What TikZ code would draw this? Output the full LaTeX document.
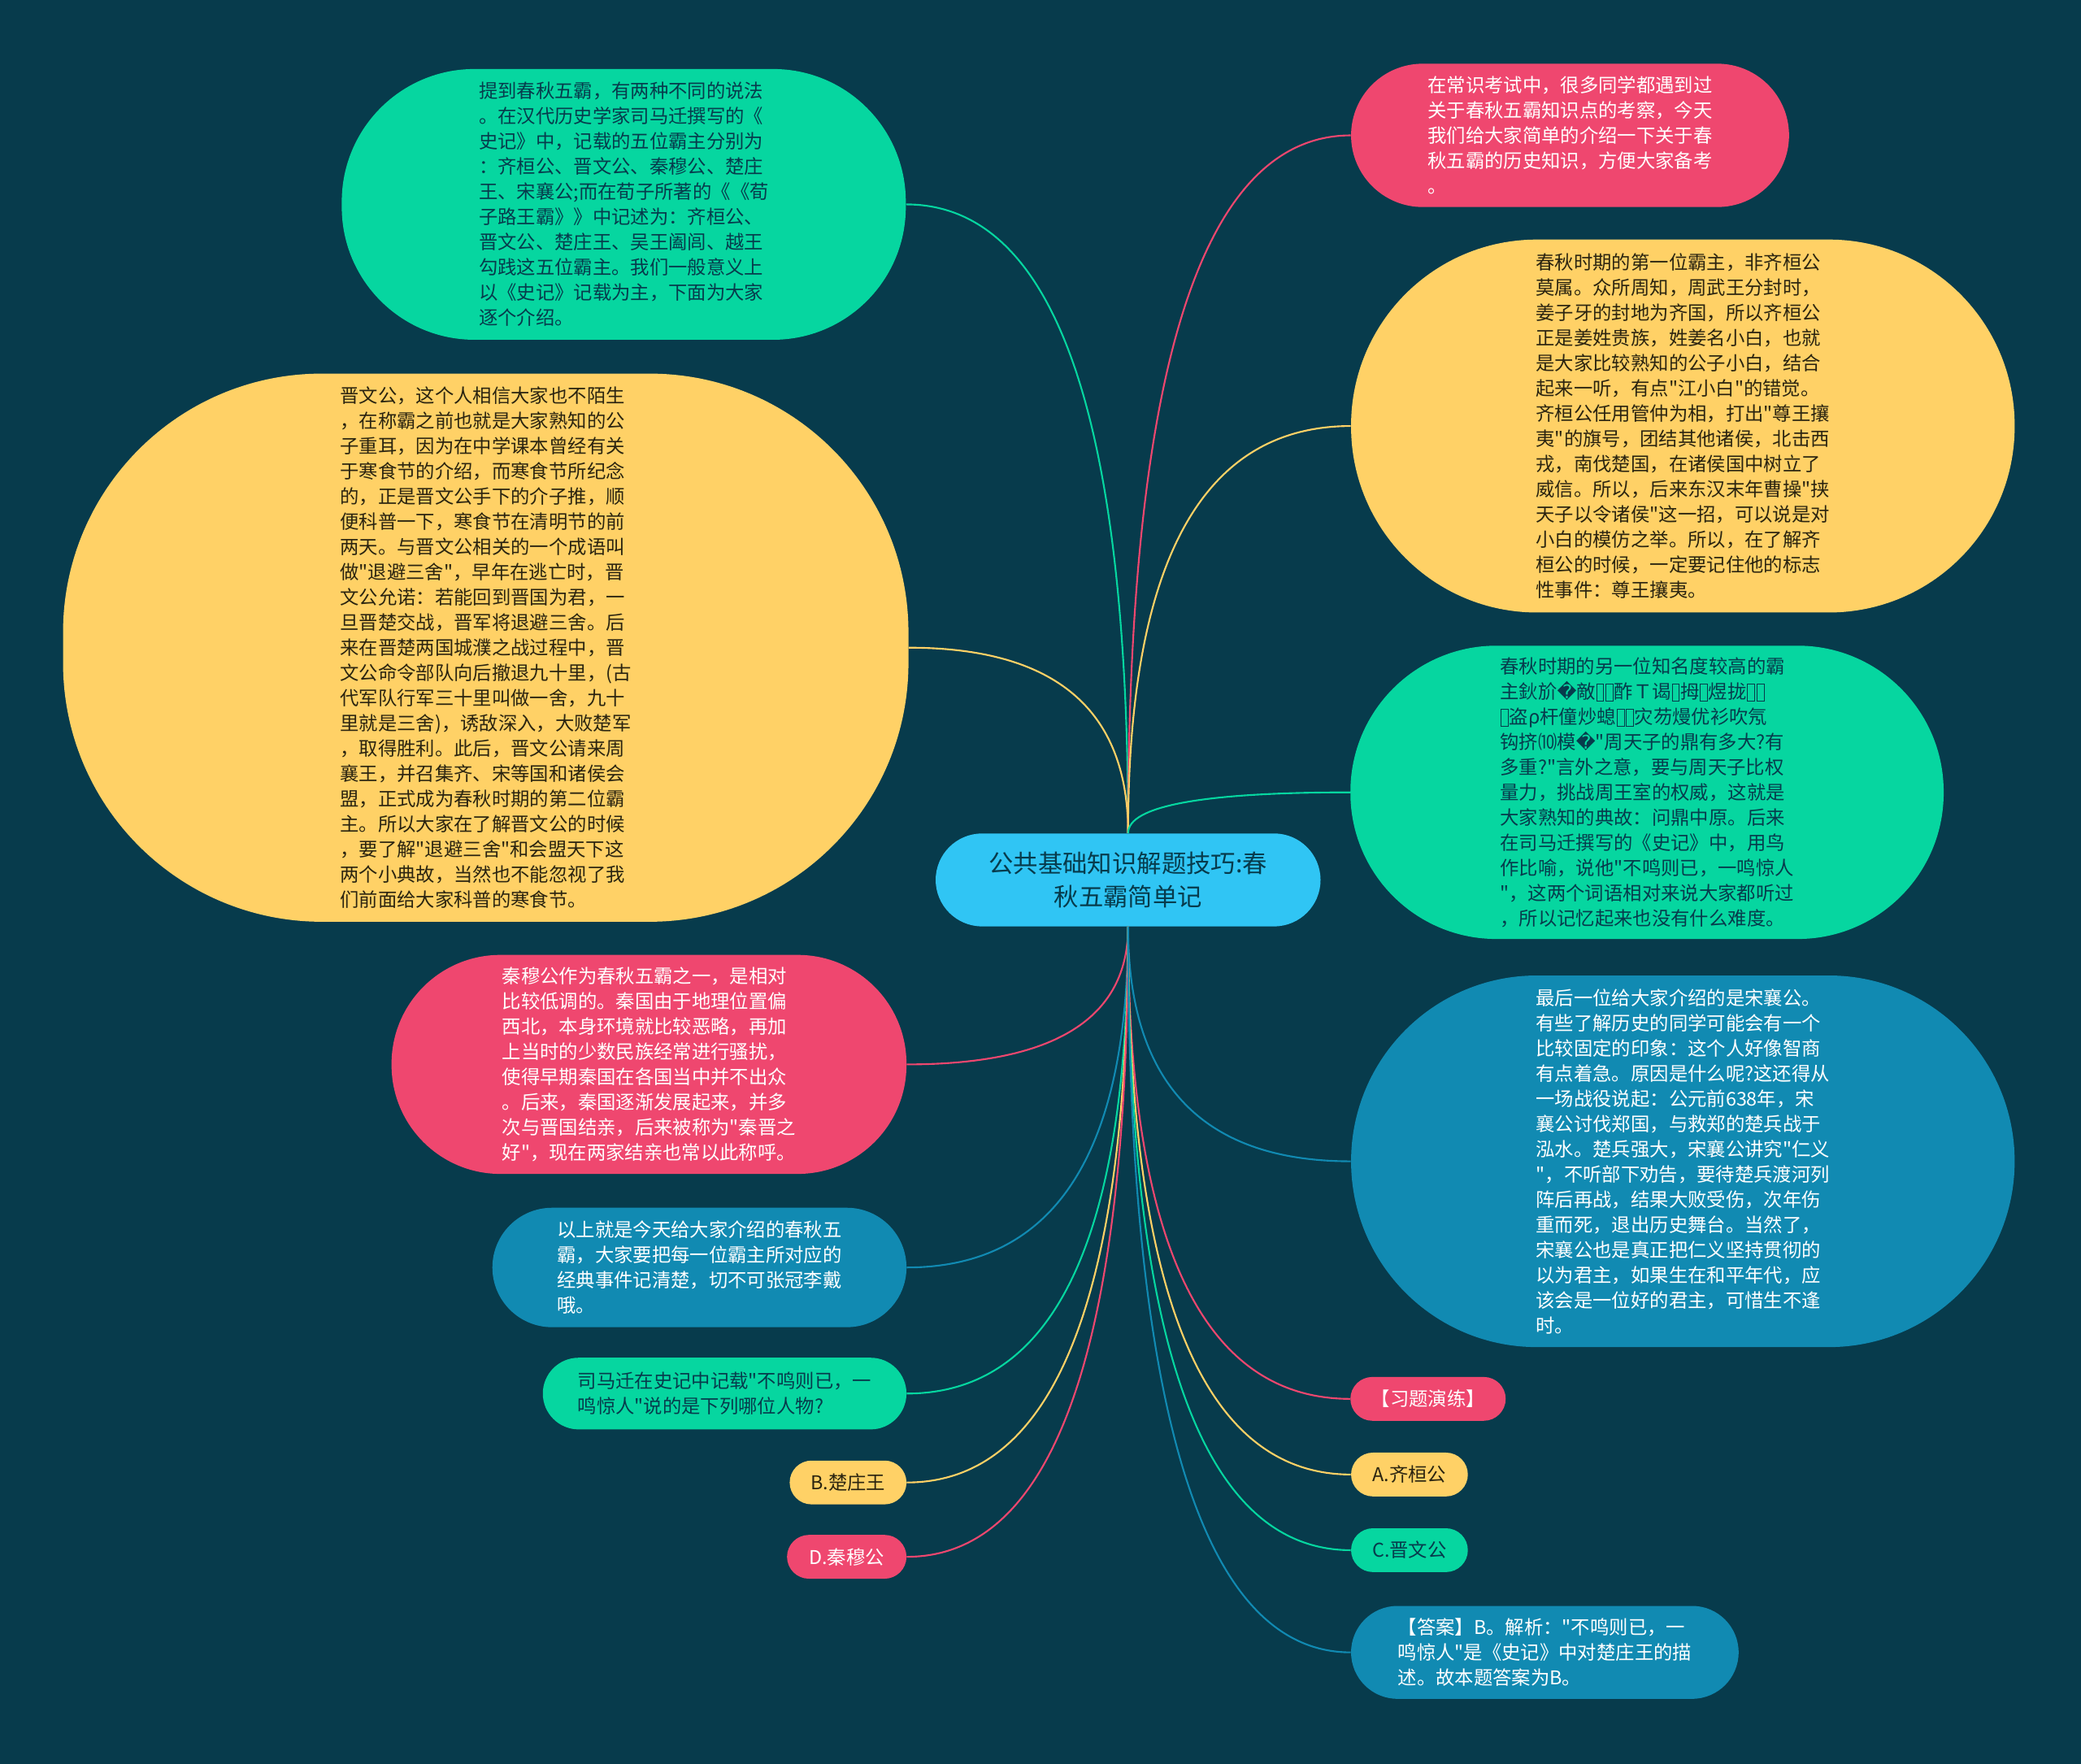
\documentclass[tikz,border=0pt]{standalone}
\usepackage{fontspec}
\newfontfamily\cjk{Noto Sans CJK SC}[Ligatures=TeXOff]
\newfontfamily\symfont{DejaVu Sans}
\definecolor{mapbg}{HTML}{073B4C}
\definecolor{mapred}{HTML}{EF476F}
\definecolor{mapyellow}{HTML}{FFD166}
\definecolor{mapgreen}{HTML}{06D6A0}
\definecolor{mapblue}{HTML}{118AB2}
\definecolor{mapsky}{HTML}{30C5F4}
\definecolor{mapink}{HTML}{073B4C}
\definecolor{mapdark}{HTML}{2A2410}
\usetikzlibrary{calc}
\newcommand{\tofu}{{\fboxsep=0pt\fboxrule=0.6pt\kern0.5pt\raisebox{-0.12em}{\framebox[0.42em]{\rule{0pt}{0.86em}}}\kern0.5pt}}
\newcommand{\repchar}{{\symfont �}}

\begin{document}
\begin{tikzpicture}[x=1pt, y=-1pt,
  bubble/.style={rounded corners=#1, inner sep=0pt, align=left,
    font=\cjk\fontsize{14.3}{19}\selectfont},
  leaf/.style={bubble=16.5pt, minimum height=33pt},
  edge/.style={line width=1.3pt}]

\path[use as bounding box, fill=mapbg] (0,0) rectangle (1568,1329);

% Centre
\node[bubble=35pt, fill=mapsky, text=mapink, minimum width=290pt, minimum height=70pt,
  align=center, font=\cjk\fontsize{18.6}{25}\selectfont]
  (root) at (850,663) {公共基础知识解题技巧:春\\秋五霸简单记};

% Left side
\node[bubble=100pt, fill=mapgreen, text=mapink, minimum width=425pt, minimum height=204pt]
  (g1) at (470,154) {提到春秋五霸，有两种不同的说法\\
。在汉代历史学家司马迁撰写的《\\
史记》中，记载的五位霸主分别为\\
：齐桓公、晋文公、秦穆公、楚庄\\
王、宋襄公;而在荀子所著的《《荀\\
子路王霸》》中记述为：齐桓公、\\
晋文公、楚庄王、吴王阖闾、越王\\
勾践这五位霸主。我们一般意义上\\
以《史记》记载为主，下面为大家\\
逐个介绍。};

\node[bubble=195pt, fill=mapyellow, text=mapdark, minimum width=637pt, minimum height=413pt]
  (y2) at (366,488) {晋文公，这个人相信大家也不陌生\\
，在称霸之前也就是大家熟知的公\\
子重耳，因为在中学课本曾经有关\\
于寒食节的介绍，而寒食节所纪念\\
的，正是晋文公手下的介子推，顺\\
便科普一下，寒食节在清明节的前\\
两天。与晋文公相关的一个成语叫\\
做"退避三舍"，早年在逃亡时，晋\\
文公允诺：若能回到晋国为君，一\\
旦晋楚交战，晋军将退避三舍。后\\
来在晋楚两国城濮之战过程中，晋\\
文公命令部队向后撤退九十里，(古\\
代军队行军三十里叫做一舍，九十\\
里就是三舍)，诱敌深入，大败楚军\\
，取得胜利。此后，晋文公请来周\\
襄王，并召集齐、宋等国和诸侯会\\
盟，正式成为春秋时期的第二位霸\\
主。所以大家在了解晋文公的时候\\
，要了解"退避三舍"和会盟天下这\\
两个小典故，当然也不能忽视了我\\
们前面给大家科普的寒食节。};

\node[bubble=82pt, fill=mapred, text=white, minimum width=388pt, minimum height=165pt]
  (r2) at (489,802) {秦穆公作为春秋五霸之一，是相对\\
比较低调的。秦国由于地理位置偏\\
西北，本身环境就比较恶略，再加\\
上当时的少数民族经常进行骚扰，\\
使得早期秦国在各国当中并不出众\\
。后来，秦国逐渐发展起来，并多\\
次与晋国结亲，后来被称为"秦晋之\\
好"，现在两家结亲也常以此称呼。};

\node[bubble=45pt, fill=mapblue, text=white, minimum width=312pt, minimum height=90pt]
  (b2) at (527,955) {以上就是今天给大家介绍的春秋五\\
霸，大家要把每一位霸主所对应的\\
经典事件记清楚，切不可张冠李戴\\
哦。};

\node[bubble=27pt, fill=mapgreen, text=mapink, minimum width=274pt, minimum height=54pt]
  (g3) at (546,1050) {司马迁在史记中记载"不鸣则已，一\\
鸣惊人"说的是下列哪位人物?};

\node[leaf, fill=mapyellow, text=mapdark, minimum width=88pt] (optB) at (639,1117) {B.楚庄王};
\node[leaf, fill=mapred, text=white, minimum width=90pt] (optD) at (638,1173) {D.秦穆公};

% Right side
\node[bubble=54pt, fill=mapred, text=white, minimum width=330pt, minimum height=108pt]
  (r1) at (1183,102) {在常识考试中，很多同学都遇到过\\
关于春秋五霸知识点的考察，今天\\
我们给大家简单的介绍一下关于春\\
秋五霸的历史知识，方便大家备考\\
。};

\node[bubble=140pt, fill=mapyellow, text=mapdark, minimum width=500pt, minimum height=281pt]
  (y1) at (1268,321) {春秋时期的第一位霸主，非齐桓公\\
莫属。众所周知，周武王分封时，\\
姜子牙的封地为齐国，所以齐桓公\\
正是姜姓贵族，姓姜名小白，也就\\
是大家比较熟知的公子小白，结合\\
起来一听，有点"江小白"的错觉。\\
齐桓公任用管仲为相，打出"尊王攘\\
夷"的旗号，团结其他诸侯，北击西\\
戎，南伐楚国，在诸侯国中树立了\\
威信。所以，后来东汉末年曹操"挟\\
天子以令诸侯"这一招，可以说是对\\
小白的模仿之举。所以，在了解齐\\
桓公的时候，一定要记住他的标志\\
性事件：尊王攘夷。};

\node[bubble=110pt, fill=mapgreen, text=mapink, minimum width=447pt, minimum height=221pt]
  (g2) at (1241,597) {春秋时期的另一位知名度较高的霸\\
主鈥斺\repchar 敵\tofu\tofu 酢Ｔ谒\tofu 拇\tofu 煜拢\tofu\tofu\\
\tofu 盗ρ杆僮炒螅\tofu\tofu 灾芴熳优衫吹氖\\
钩挤⑽模\repchar"周天子的鼎有多大?有\\
多重?"言外之意，要与周天子比权\\
量力，挑战周王室的权威，这就是\\
大家熟知的典故：问鼎中原。后来\\
在司马迁撰写的《史记》中，用鸟\\
作比喻，说他"不鸣则已，一鸣惊人\\
"，这两个词语相对来说大家都听过\\
，所以记忆起来也没有什么难度。};

\node[bubble=140pt, fill=mapblue, text=white, minimum width=500pt, minimum height=280pt]
  (b1) at (1268,875) {最后一位给大家介绍的是宋襄公。\\
有些了解历史的同学可能会有一个\\
比较固定的印象：这个人好像智商\\
有点着急。原因是什么呢?这还得从\\
一场战役说起：公元前638年，宋\\
襄公讨伐郑国，与救郑的楚兵战于\\
泓水。楚兵强大，宋襄公讲究"仁义\\
"，不听部下劝告，要待楚兵渡河列\\
阵后再战，结果大败受伤，次年伤\\
重而死，退出历史舞台。当然了，\\
宋襄公也是真正把仁义坚持贯彻的\\
以为君主，如果生在和平年代，应\\
该会是一位好的君主，可惜生不逢\\
时。};

\node[leaf, fill=mapred, text=white, minimum width=117pt] (drill) at (1076,1054) {【习题演练】};
\node[leaf, fill=mapyellow, text=mapdark, minimum width=88pt] (optA) at (1062,1111) {A.齐桓公};
\node[leaf, fill=mapgreen, text=mapink, minimum width=88pt] (optC) at (1062,1168) {C.晋文公};

\node[bubble=35pt, fill=mapblue, text=white, minimum width=292pt, minimum height=70pt]
  (ans) at (1164,1245) {【答案】B。解析："不鸣则已，一\\
鸣惊人"是《史记》中对楚庄王的描\\
述。故本题答案为B。};

% Branches
\foreach \n/\s/\a/\c in {g1/north/east/mapgreen, y2/north/east/mapyellow,
    r1/north/west/mapred, y1/north/west/mapyellow, g2/north/west/mapgreen,
    r2/south/east/mapred, b2/south/east/mapblue, g3/south/east/mapgreen,
    optB/south/east/mapyellow, optD/south/east/mapred,
    b1/south/west/mapblue, drill/south/west/mapred, optA/south/west/mapyellow,
    optC/south/west/mapgreen, ans/south/west/mapblue}
  \draw[edge, \c] (root.\s)
    .. controls ($(root.\s)!.667!(root.\s |- \n.\a)$)
    and ($(\n.\a)!.667!(root.\s |- \n.\a)$) .. (\n.\a);

\end{tikzpicture}
\end{document}
